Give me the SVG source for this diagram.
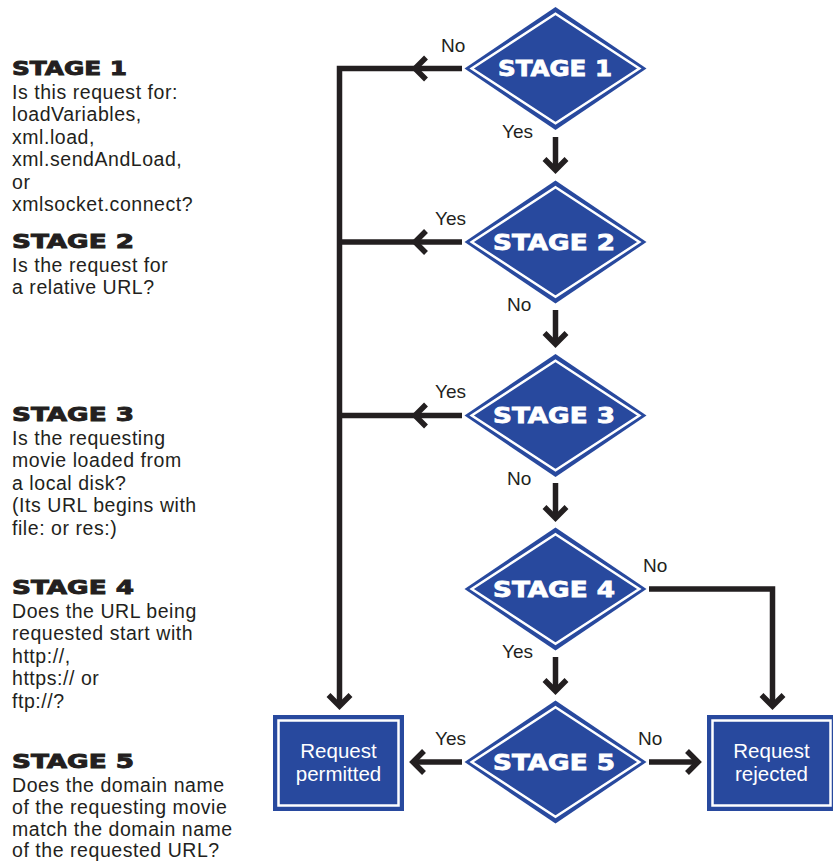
<svg xmlns="http://www.w3.org/2000/svg" xmlns:xlink="http://www.w3.org/1999/xlink" width="833" height="861" viewBox="0 0 833 861">
<style>
.body{font-family:"Liberation Sans",Arial,sans-serif;font-size:19.5px;fill:#231f20;letter-spacing:0.55px}
.hdr{font-family:"DejaVu Sans",sans-serif;font-weight:bold;font-size:19px;fill:#231f20;stroke:#231f20;stroke-width:0.9px}
.dlab{font-family:"DejaVu Sans",sans-serif;font-weight:bold;font-size:20.5px;fill:#fff;stroke:#fff;stroke-width:0.8px}
.lbl{font-family:"Liberation Sans",Arial,sans-serif;font-size:19px;fill:#231f20}
.btxt{font-family:"Liberation Sans",Arial,sans-serif;font-size:20.5px;fill:#fff;text-anchor:middle}
.dout{fill:#28499e}
.din{fill:none;stroke:#fff;stroke-width:2.5}
.conn{fill:none;stroke:#231f20;stroke-width:5.5;stroke-linejoin:miter}
</style>
<defs>
<path id="chev" d="M-11,-11 L0,0 L-11,11" fill="none" stroke="#231f20" stroke-width="5.5"/>
</defs>

<g id="legend">
<text class="hdr" x="12" y="75" textLength="115" lengthAdjust="spacingAndGlyphs">STAGE 1</text>
<text class="body" x="12" y="99">Is this request for:</text>
<text class="body" x="12" y="121.4">loadVariables,</text>
<text class="body" x="12" y="143.8">xml.load,</text>
<text class="body" x="12" y="166.2">xml.sendAndLoad,</text>
<text class="body" x="12" y="188.6">or</text>
<text class="body" x="12" y="211">xmlsocket.connect?</text>

<text class="hdr" x="12" y="248" textLength="122" lengthAdjust="spacingAndGlyphs">STAGE 2</text>
<text class="body" x="12" y="272">Is the request for</text>
<text class="body" x="12" y="294.4">a relative URL?</text>

<text class="hdr" x="12" y="421" textLength="122" lengthAdjust="spacingAndGlyphs">STAGE 3</text>
<text class="body" x="12" y="445">Is the requesting</text>
<text class="body" x="12" y="467.4">movie loaded from</text>
<text class="body" x="12" y="489.8">a local disk?</text>
<text class="body" x="12" y="512.2">(Its URL begins with</text>
<text class="body" x="12" y="534.6">file: or res:)</text>

<text class="hdr" x="12" y="594" textLength="122" lengthAdjust="spacingAndGlyphs">STAGE 4</text>
<text class="body" x="12" y="618">Does the URL being</text>
<text class="body" x="12" y="640.4">requested start with</text>
<text class="body" x="12" y="662.8">http://,</text>
<text class="body" x="12" y="685.2">https:// or</text>
<text class="body" x="12" y="707.6">ftp://?</text>

<text class="hdr" x="12" y="768" textLength="122" lengthAdjust="spacingAndGlyphs">STAGE 5</text>
<text class="body" x="12" y="791.5">Does the domain name</text>
<text class="body" x="12" y="813.5">of the requesting movie</text>
<text class="body" x="12" y="835.5">match the domain name</text>
<text class="body" x="12" y="857">of the requested URL?</text>
</g>

<g id="connectors">
<path class="conn" d="M462,68.5 L339.5,68.5 L339.5,705"/>
<use xlink:href="#chev" transform="translate(339.5,706) rotate(90)"/>
<use xlink:href="#chev" transform="translate(415,68.5) rotate(180)"/>
<path class="conn" d="M462,242 L339.5,242"/>
<use xlink:href="#chev" transform="translate(415,242) rotate(180)"/>
<path class="conn" d="M462,415.5 L339.5,415.5"/>
<use xlink:href="#chev" transform="translate(415,415.5) rotate(180)"/>
<path class="conn" d="M555.5,137 L555.5,170"/>
<use xlink:href="#chev" transform="translate(555.5,170) rotate(90)"/>
<path class="conn" d="M555.5,310 L555.5,344"/>
<use xlink:href="#chev" transform="translate(555.5,344) rotate(90)"/>
<path class="conn" d="M555.5,483 L555.5,518"/>
<use xlink:href="#chev" transform="translate(555.5,518) rotate(90)"/>
<path class="conn" d="M555.5,657 L555.5,691"/>
<use xlink:href="#chev" transform="translate(555.5,691) rotate(90)"/>
<path class="conn" d="M649,589 L772.5,589 L772.5,706"/>
<use xlink:href="#chev" transform="translate(772.5,706) rotate(90)"/>
<path class="conn" d="M462,762 L414,762"/>
<use xlink:href="#chev" transform="translate(413,762) rotate(180)"/>
<path class="conn" d="M649,762 L697,762"/>
<use xlink:href="#chev" transform="translate(698,762) rotate(0)"/>
</g>

<g id="labels">
<text class="lbl" x="441" y="52">No</text>
<text class="lbl" x="502" y="138">Yes</text>
<text class="lbl" x="435" y="225">Yes</text>
<text class="lbl" x="507" y="311">No</text>
<text class="lbl" x="435" y="398">Yes</text>
<text class="lbl" x="507" y="485">No</text>
<text class="lbl" x="643" y="572">No</text>
<text class="lbl" x="502" y="658">Yes</text>
<text class="lbl" x="435" y="745">Yes</text>
<text class="lbl" x="638" y="745">No</text>
</g>

<g id="stage1">
<polygon class="dout" points="555.5,7 646.5,68.5 555.5,130 464.5,68.5"/>
<polygon class="din" points="555.5,13.7 639.3,68.5 555.5,123.3 471.7,68.5"/>
<text class="dlab" x="498" y="76" textLength="114" lengthAdjust="spacingAndGlyphs">STAGE 1</text>
</g>
<g id="stage2">
<polygon class="dout" points="555.5,180.5 646.5,242 555.5,303.5 464.5,242"/>
<polygon class="din" points="555.5,187.2 639.3,242 555.5,296.8 471.7,242"/>
<text class="dlab" x="493" y="249.5" textLength="122" lengthAdjust="spacingAndGlyphs">STAGE 2</text>
</g>
<g id="stage3">
<polygon class="dout" points="555.5,354 646.5,415.5 555.5,477 464.5,415.5"/>
<polygon class="din" points="555.5,360.7 639.3,415.5 555.5,470.3 471.7,415.5"/>
<text class="dlab" x="493" y="423" textLength="122" lengthAdjust="spacingAndGlyphs">STAGE 3</text>
</g>
<g id="stage4">
<polygon class="dout" points="555.5,527.5 646.5,589 555.5,650.5 464.5,589"/>
<polygon class="din" points="555.5,534.2 639.3,589 555.5,643.8 471.7,589"/>
<text class="dlab" x="493" y="596.5" textLength="122" lengthAdjust="spacingAndGlyphs">STAGE 4</text>
</g>
<g id="stage5">
<polygon class="dout" points="555.5,700.5 646.5,762 555.5,823.5 464.5,762"/>
<polygon class="din" points="555.5,707.2 639.3,762 555.5,816.8 471.7,762"/>
<text class="dlab" x="493" y="769.5" textLength="122" lengthAdjust="spacingAndGlyphs">STAGE 5</text>
</g>

<g id="permitted">
<rect class="dout" x="273" y="715" width="131" height="96"/>
<rect class="din" x="278.5" y="720.5" width="120" height="85"/>
<text class="btxt" x="338.5" y="758">Request</text>
<text class="btxt" x="338.5" y="781">permitted</text>
</g>
<g id="rejected">
<rect class="dout" x="707" y="715" width="129" height="96"/>
<rect class="din" x="712.5" y="720.5" width="118" height="85"/>
<text class="btxt" x="771.5" y="758">Request</text>
<text class="btxt" x="771.5" y="781">rejected</text>
</g>
</svg>
